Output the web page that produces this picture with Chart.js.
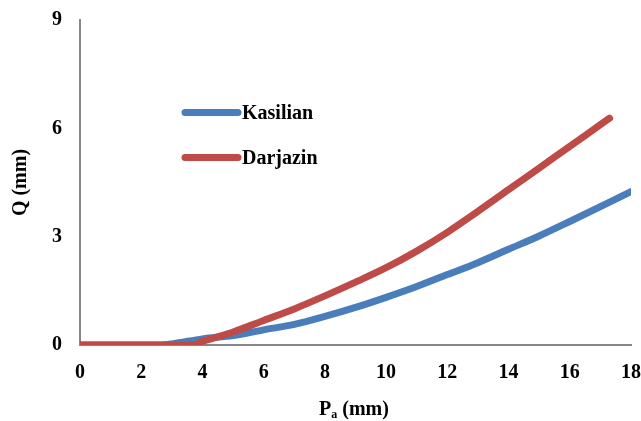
<!DOCTYPE html>
<html>
<head>
<meta charset="utf-8">
<script src="https://cdn.jsdelivr.net/npm/chart.js@4.4.1/dist/chart.umd.min.js"></script>
<style>
  html, body { margin: 0; padding: 0; background: #fff; }
  #wrap { width: 641px; height: 421px; position: relative; }
</style>
</head>
<body>
<div id="wrap"><canvas id="c" width="641" height="421"></canvas></div>
<script>
// ---- Data ----
const seriesNames = ["Kasilian", "Darjazin"];
const kasilianX = [0, 1, 2, 2.6, 3, 4, 5, 6, 7, 8, 9, 10, 11, 12, 13, 14, 15, 16, 17, 18];
const kasilianY = [0, 0, 0, 0, 0.03, 0.17, 0.26, 0.42, 0.57, 0.79, 1.04, 1.32, 1.62, 1.95, 2.28, 2.65, 3.02, 3.42, 3.83, 4.25];
const darjazinX = [0, 1, 2, 3, 3.7, 4, 5, 6, 7, 8, 9, 10, 11, 12, 13, 14, 15, 16, 17, 17.3];
const darjazinY = [0, 0, 0, 0, 0, 0.1, 0.36, 0.68, 1.0, 1.36, 1.74, 2.14, 2.6, 3.12, 3.7, 4.3, 4.9, 5.5, 6.1, 6.28];
const xTicks = [0, 2, 4, 6, 8, 10, 12, 14, 16, 18];
const yTicks = [0, 3, 6, 9];
const xTitleMain = "P";
const xTitleSub = "a";
const xTitleRest = " (mm)";
const yTitle = "Q (mm)";

const toPts = (xs, ys) => xs.map((x, i) => ({ x: x, y: ys[i] }));

const FONT = "'Liberation Serif', 'Times New Roman', serif";
const AXIS_COLOR = "#878787";

const legendPlugin = {
  id: 'customLegend',
  afterDatasetsDraw(chart) {
    const ctx = chart.ctx;
    const items = [0, 1].map(i => chart.data.datasets.find(d => d.label === seriesNames[i]));
    const ys = [112.5, 157.5];
    ctx.save();
    items.forEach((ds, i) => {
      ctx.strokeStyle = ds.borderColor;
      ctx.lineWidth = 7;
      ctx.lineCap = 'round';
      ctx.beginPath();
      ctx.moveTo(185, ys[i]);
      ctx.lineTo(238, ys[i]);
      ctx.stroke();
      ctx.fillStyle = '#000';
      ctx.font = "bold 20px " + FONT;
      ctx.textBaseline = 'alphabetic';
      ctx.textAlign = 'left';
      ctx.fillText(ds.label, 242, ys[i] + 6.5);
    });
    ctx.restore();
  }
};

const xTitlePlugin = {
  id: 'xTitle',
  afterDraw(chart) {
    const ctx = chart.ctx;
    ctx.save();
    ctx.fillStyle = '#000';
    ctx.textBaseline = 'alphabetic';
    ctx.textAlign = 'left';
    const big = "bold 20px " + FONT;
    const small = "bold 12px " + FONT;
    ctx.font = big;
    const w1 = ctx.measureText(xTitleMain).width;
    const w3 = ctx.measureText(xTitleRest).width;
    ctx.font = small;
    const w2 = ctx.measureText(xTitleSub).width;
    const total = w1 + w2 + w3;
    const cx = 354;
    let x = cx - total / 2;
    const base = 415;
    ctx.font = big;
    ctx.fillText(xTitleMain, x, base);
    x += w1;
    ctx.font = small;
    ctx.fillText(xTitleSub, x, base + 3);
    x += w2;
    ctx.font = big;
    ctx.fillText(xTitleRest, x, base);
    ctx.restore();
  }
};

new Chart(document.getElementById('c'), {
  type: 'line',
  data: {
    datasets: [
      {
        label: seriesNames[0],
        data: toPts(kasilianX, kasilianY),
        borderColor: '#4A7EBB',
        backgroundColor: '#4A7EBB',
        borderWidth: 7,
        pointRadius: 0,
        cubicInterpolationMode: 'monotone',
        borderCapStyle: 'round',
        borderJoinStyle: 'round',
        fill: false,
        order: 1
      },
      {
        label: seriesNames[1],
        data: toPts(darjazinX, darjazinY),
        borderColor: '#BE4B48',
        backgroundColor: '#BE4B48',
        borderWidth: 7,
        pointRadius: 0,
        cubicInterpolationMode: 'monotone',
        borderCapStyle: 'round',
        borderJoinStyle: 'round',
        fill: false,
        order: 0
      }
    ]
  },
  options: {
    responsive: false,
    animation: false,
    devicePixelRatio: 1,
    layout: { padding: { top: 20, right: 10, left: 0, bottom: 0 } },
    plugins: {
      legend: { display: false },
      tooltip: { enabled: false }
    },
    scales: {
      x: {
        type: 'linear',
        min: 0,
        max: 18,
        afterBuildTicks: (s) => { s.ticks = xTicks.map(v => ({ value: v })); },
        afterFit: (s) => { s.height = 76; s.paddingLeft = 0; s.paddingRight = 0; },
        grid: { display: true, color: 'rgba(0,0,0,0)', drawTicks: false },
        border: { display: true, color: AXIS_COLOR, width: 2 },
        ticks: {
          color: '#000',
          padding: 16,
          maxRotation: 0,
          font: { family: FONT, size: 20, weight: 'bold' }
        },
        title: { display: false }
      },
      y: {
        type: 'linear',
        min: 0,
        max: 9,
        afterBuildTicks: (s) => { s.ticks = yTicks.map(v => ({ value: v })); },
        afterFit: (s) => { s.width = 80; s.paddingTop = 0; s.paddingBottom = 0; },
        grid: { display: true, color: 'rgba(0,0,0,0)', drawTicks: false },
        border: { display: true, color: AXIS_COLOR, width: 2 },
        ticks: {
          color: '#000',
          padding: 18,
          font: { family: FONT, size: 20, weight: 'bold' }
        },
        title: {
          display: true,
          text: yTitle,
          color: '#000',
          font: { family: FONT, size: 20, weight: 'bold' },
          padding: { top: 9, bottom: 0 }
        }
      }
    }
  },
  plugins: [legendPlugin, xTitlePlugin]
});
</script>
</body>
</html>
